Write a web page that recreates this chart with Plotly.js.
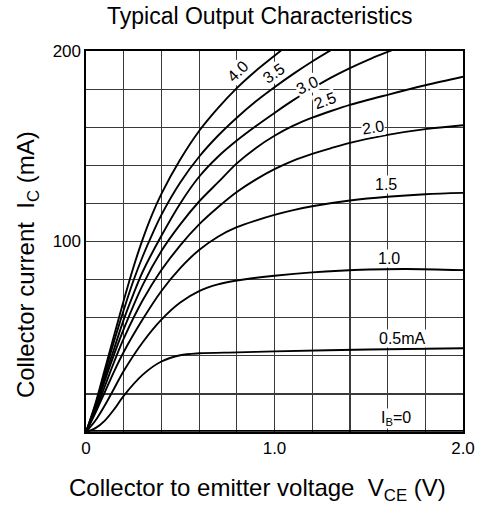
<!DOCTYPE html>
<html>
<head>
<meta charset="utf-8">
<script src="https://cdn.plot.ly/plotly-3.0.1.min.js"></script>
<style>html,body{margin:0;padding:0;background:#fff;}#chart{width:481px;height:510px;}</style>
</head>
<body>
<div id="chart"></div>
<script>
// Collector-emitter voltage samples (V) and collector current (mA) for each base current IB
const curveNames = ["IB=0", "0.5mA", "1.0", "1.5", "2.0", "2.5", "3.0", "3.5", "4.0"];

const vIB0 = [0, 2.0];
const iIB0 = [0.6, 0.6];

const v05 = [0, 0.05, 0.1, 0.15, 0.2, 0.3, 0.4, 0.5, 0.6, 0.8, 1.0, 1.5, 2.0];
const i05 = [0, 2, 6, 12, 19, 30, 37, 40.3, 41.3, 41.8, 42.3, 43.3, 44];

const v10 = [0, 0.05, 0.1, 0.15, 0.2, 0.3, 0.4, 0.5, 0.6, 0.7, 0.8, 1.0, 1.2, 1.5, 1.7, 2.0];
const i10 = [0, 6, 14, 23, 32, 47, 59, 68, 74, 77.5, 79.5, 82, 83.8, 85.3, 85.6, 85];

const v15 = [0, 0.05, 0.1, 0.15, 0.2, 0.3, 0.4, 0.5, 0.6, 0.7, 0.8, 0.9, 1.0, 1.1, 1.2, 1.4, 1.6, 1.8, 2.0];
const i15 = [0, 10, 21, 32, 42, 59, 74, 86, 95.5, 102.5, 107.5, 111, 114, 116.5, 118.5, 121.5, 123.5, 124.8, 125.5];

const v20 = [0, 0.05, 0.1, 0.15, 0.2, 0.3, 0.4, 0.5, 0.6, 0.7, 0.8, 0.9, 1.0, 1.1, 1.2, 1.3, 1.4, 1.6, 1.8, 2.0];
const i20 = [0, 11, 24, 37, 49, 69, 85, 98, 109, 118, 126, 132.5, 138, 142.5, 146, 149, 151.8, 156, 159, 161];

const v25 = [0, 0.05, 0.1, 0.15, 0.2, 0.3, 0.4, 0.5, 0.6, 0.7, 0.8, 0.9, 1.0, 1.1, 1.2, 1.3, 1.4, 1.6, 1.8, 2.0];
const i25 = [0, 12, 27, 41, 54, 77, 95, 109, 121, 131, 141, 149, 155.5, 160.8, 165, 168.5, 171.7, 177, 182, 186.5];

const v30 = [0, 0.05, 0.1, 0.15, 0.2, 0.25, 0.3, 0.4, 0.5, 0.6, 0.7, 0.8, 0.9, 1.0, 1.1, 1.2, 1.3, 1.4, 1.5, 1.6, 1.65];
const i30 = [0, 13, 29, 44, 59, 72, 84, 103, 120, 134, 144.5, 153, 160.5, 167.5, 174.2, 180.3, 186, 191, 195.5, 199.5, 201.5];

const v35 = [0, 0.05, 0.1, 0.15, 0.2, 0.25, 0.3, 0.35, 0.4, 0.5, 0.6, 0.7, 0.8, 0.9, 1.0, 1.1, 1.2, 1.3];
const i35 = [0, 14, 31, 48, 64, 79, 92, 103.5, 114, 131, 144.5, 155.5, 165, 173.5, 181, 188, 194.5, 200.5];

const v40 = [0, 0.05, 0.1, 0.15, 0.2, 0.25, 0.3, 0.35, 0.4, 0.5, 0.6, 0.7, 0.8, 0.9, 1.0, 1.05];
const i40 = [0, 15, 33, 51, 69, 86, 101, 114, 125, 143, 158, 170, 180.5, 189.5, 197.5, 201.5];

const xTickVals = [0, 0.2, 0.4, 0.6, 0.8, 1.0, 1.2, 1.4, 1.6, 1.8, 2.0];
const xTickText = ["0", "", "", "", "", "1.0", "", "", "", "", "2.0"];
const yTickVals = [0, 20, 40, 60, 80, 100, 120, 140, 160, 180, 200];
const yTickText = ["", "", "", "", "", "100", "", "", "", "", "200"];

const series = [
  [vIB0, iIB0], [v05, i05], [v10, i10], [v15, i15], [v20, i20],
  [v25, i25], [v30, i30], [v35, i35], [v40, i40]
];

const traces = series.map((s, k) => ({
  x: s[0], y: s[1], name: curveNames[k], type: "scatter", mode: "lines",
  line: {color: "#000", width: 1.9, shape: k === 0 ? "linear" : "spline", smoothing: 0.9},
  hoverinfo: "skip", showlegend: false
}));

const FONT = "Liberation Sans, Arial, Helvetica, sans-serif";
const lab = (text, x, y, ang) => ({
  text: text, x: x, y: y, xref: "x", yref: "y", showarrow: false,
  textangle: ang, font: {family: FONT, size: 16, color: "#000"},
  bgcolor: "#fff", borderpad: 0
});

const layout = {
  width: 481, height: 510,
  margin: {l: 86, r: 18, t: 51, b: 78, pad: 0},
  paper_bgcolor: "#fff", plot_bgcolor: "#fff",
  font: {family: FONT, color: "#000"},
  title: {
    text: "Typical Output Characteristics",
    font: {family: FONT, size: 23, color: "#000"},
    x: 0.54, xref: "container", xanchor: "center",
    y: 0.968, yref: "container", yanchor: "middle"
  },
  xaxis: {
    range: [0, 2], tickmode: "array", tickvals: xTickVals, ticktext: xTickText,
    showgrid: true, gridcolor: "#3a3a3a", gridwidth: 1.2,
    showline: true, linecolor: "#000", linewidth: 1.6, mirror: true,
    ticks: "", zeroline: false,
    tickfont: {family: FONT, size: 17, color: "#000"}
  },
  yaxis: {
    range: [0, 200], tickmode: "array", tickvals: yTickVals, ticktext: yTickText,
    showgrid: true, gridcolor: "#3a3a3a", gridwidth: 1.2,
    showline: true, linecolor: "#000", linewidth: 1.6, mirror: true,
    ticks: "", zeroline: false,
    tickfont: {family: FONT, size: 17, color: "#000"}
  },
  annotations: [
    lab("4.0", 0.805, 189, -45),
    lab("3.5", 0.995, 188, -35),
    lab("3.0", 1.17, 182, -25),
    lab("2.5", 1.27, 174, -20),
    lab("2.0", 1.52, 160, -8),
    lab("1.5", 1.59, 130, 0),
    lab("1.0", 1.61, 91, 0),
    lab("0.5mA", 1.68, 49, 0),
    lab("I<sub>B</sub>=0", 1.645, 7, 0),
    {
      text: "Collector current  I<sub>C</sub> (mA)", xref: "paper", yref: "paper",
      x: 0, y: 0.438, xshift: -59, xanchor: "center", yanchor: "middle",
      textangle: -90, showarrow: false, font: {family: FONT, size: 24, color: "#000"}
    },
    {
      text: "Collector to emitter voltage  V<sub>CE</sub> (V)", xref: "paper", yref: "paper",
      x: 0.455, y: -0.15, xanchor: "center", yanchor: "middle",
      showarrow: false, font: {family: FONT, size: 24, color: "#000"}
    }
  ]
};

Plotly.newPlot("chart", traces, layout, {staticPlot: true, displayModeBar: false});
</script>
</body>
</html>
